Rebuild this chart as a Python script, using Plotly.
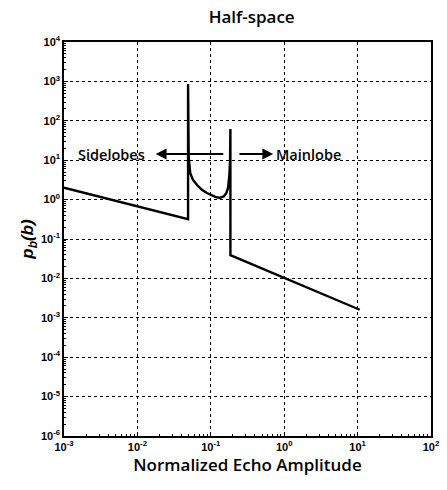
import plotly.graph_objects as go

# Sidelobe segment
side_b = [0.001, 0.049]
side_p = [2.0, 0.32]

# Mainlobe segment (between the two singularities)
main_b = [0.049, 0.049, 0.0495, 0.050, 0.0525, 0.057, 0.065, 0.075, 0.0885,
          0.100, 0.115, 0.132, 0.150, 0.163, 0.172, 0.179, 0.183, 0.185, 0.185]
main_p = [0.32, 860, 30, 12, 4.7, 3.2, 2.35, 1.8, 1.47,
          1.3, 1.17, 1.1, 1.2, 1.47, 2.0, 4.2, 10, 62, 0.039]

# Tail segment
tail_b = [0.185, 10.7]
tail_p = [0.039, 0.0016]

x_all = side_b + main_b + tail_b
y_all = side_p + main_p + tail_p

x_exps = [-3, -2, -1, 0, 1, 2]
y_exps = [-6, -5, -4, -3, -2, -1, 0, 1, 2, 3, 4]
x_tickvals = [10.0 ** e for e in x_exps]
y_tickvals = [10.0 ** e for e in y_exps]
x_ticktext = ["10<sup>%d</sup>" % e for e in x_exps]
y_ticktext = ["10<sup>%d</sup>" % e for e in y_exps]

title_text = "Half-space"
x_title = "Normalized Echo Amplitude"
y_title = "<i>p</i><sub><i>b</i></sub><i>(b)</i>"

fig = go.Figure()
fig.add_trace(go.Scatter(x=x_all, y=y_all, mode="lines",
                         line=dict(color="black", width=2.4),
                         showlegend=False, hoverinfo="skip"))

tickfont = dict(family="Liberation Sans, Arial", size=11, color="black", weight="bold")
axis_common = dict(
    type="log", showline=True, linecolor="black", linewidth=1.5, mirror=True,
    showgrid=True, gridcolor="black", gridwidth=1, griddash="dot",
    ticks="inside", ticklen=4, tickcolor="black", tickmode="array",
    tickfont=tickfont, zeroline=False,
    minor=dict(ticks="inside", ticklen=2, tickcolor="black", showgrid=False, dtick="D1"),
)

fig.update_xaxes(**axis_common, range=[-3, 2], tickvals=x_tickvals, ticktext=x_ticktext,
                 title=dict(text=x_title, standoff=6,
                            font=dict(family="Open Sans", size=17, color="black", weight=600)))
fig.update_yaxes(**axis_common, range=[-6, 4], tickvals=y_tickvals, ticktext=y_ticktext,
                 title=dict(text=y_title, standoff=3,
                            font=dict(family="Liberation Sans, Arial", size=17, color="black", weight="bold")))

fig.update_layout(
    width=447, height=490,
    margin=dict(l=64, r=8, t=42, b=54),
    paper_bgcolor="white", plot_bgcolor="white",
    title=dict(text=title_text, x=0.563, xanchor="center", y=0.965, yanchor="middle",
               font=dict(family="Open Sans", size=17, color="black", weight=600)),
)

# Annotations: Sidelobes / Mainlobe arrows
fig.add_annotation(x=-1.87, y=1.157, xref="x", yref="y", text="Sidelobes",
                   showarrow=False, xanchor="right", yanchor="middle",
                   font=dict(family="Open Sans", size=14.5, color="black", weight=600))
fig.add_annotation(x=-1.75, y=1.157, ax=-0.81, ay=1.157, xref="x", yref="y",
                   axref="x", ayref="y", text="", showarrow=True,
                   arrowhead=2, arrowsize=1.2, arrowwidth=1.8, arrowcolor="black")
fig.add_annotation(x=-0.15, y=1.157, ax=-0.63, ay=1.157, xref="x", yref="y",
                   axref="x", ayref="y", text="", showarrow=True,
                   arrowhead=2, arrowsize=1.2, arrowwidth=1.8, arrowcolor="black")
fig.add_annotation(x=-0.14, y=1.157, xref="x", yref="y", text="Mainlobe",
                   showarrow=False, xanchor="left", yanchor="middle",
                   font=dict(family="Open Sans", size=14.5, color="black", weight=600))

fig.write_html("out.html")
